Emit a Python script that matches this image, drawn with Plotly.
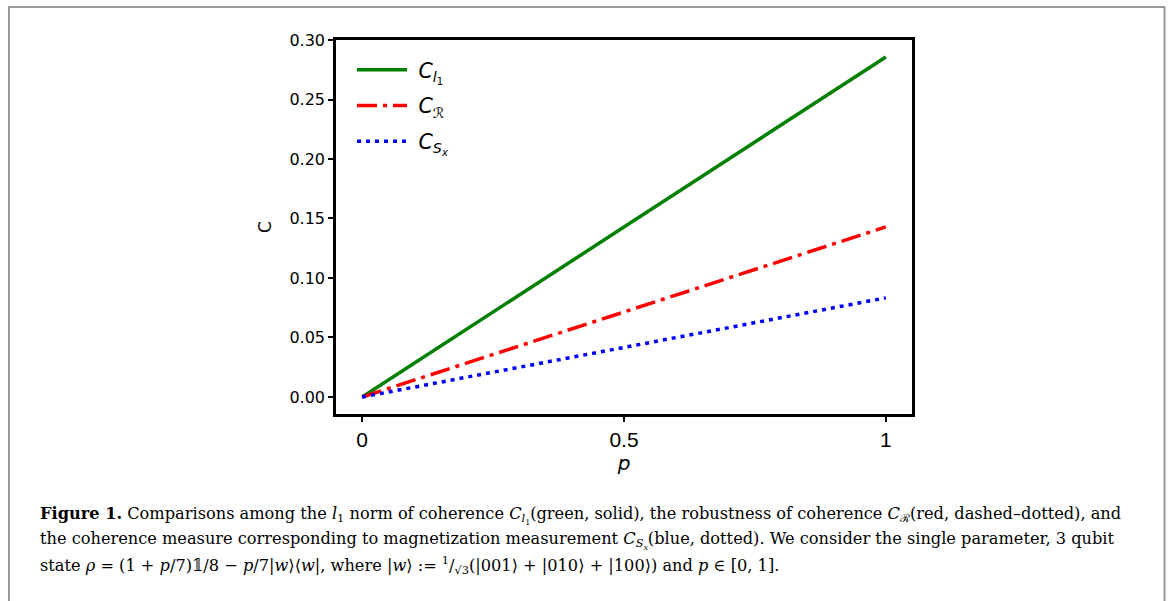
import plotly.graph_objects as go

# data
p = [0.0, 1.0]
c_l1 = [0.0, 0.2857]
c_r = [0.0, 0.1429]
c_sx = [0.0, 0.0833]

x_ticks = [0, 0.5, 1]
x_tick_labels = ["0", "0.5", "1"]
y_ticks = [0.0, 0.05, 0.10, 0.15, 0.20, 0.25, 0.30]
y_tick_labels = ["0.00", "0.05", "0.10", "0.15", "0.20", "0.25", "0.30"]

W, H = 1171, 601
L, R, T, B = 336, 912, 40, 414
pw, ph = R - L, B - T

def px(x):
    return (x - L) / pw

def py(y):
    return (B - y) / ph

NB = "\u00a0"
fig = go.Figure()
fig.add_trace(go.Scatter(x=p, y=c_l1, mode="lines", name=NB + "<i>C</i><sub><i>l</i><sub>1</sub></sub>",
                         line=dict(color="green", width=3.5), legendgroup="a"))
fig.add_trace(go.Scatter(x=p, y=c_r, mode="lines", name=NB + "<i>C</i><sub>ℛ</sub>",
                         line=dict(color="red", width=3.5, dash="20px,6px,4px,6px"), legendgroup="b"))
fig.add_trace(go.Scatter(x=p, y=c_sx, mode="lines", name=NB + "<i>C</i><sub><i>S</i><sub><i>x</i></sub></sub>",
                         line=dict(color="blue", width=3.5, dash="4px,5px"), legendgroup="c"))

axis_common = dict(showgrid=False, zeroline=False, showline=True, linecolor="black", linewidth=2.5,
                   mirror=True, ticks="outside", ticklen=5, tickwidth=2, tickcolor="black")

fig.update_xaxes(range=[-0.05, 1.05], tickvals=x_ticks, ticktext=x_tick_labels,
                 tickfont=dict(family="Liberation Sans", size=21, color="black"),
                 title=dict(text="<i>p</i>", font=dict(family="DejaVu Sans", size=20, color="black"), standoff=2),
                 **axis_common)
fig.update_yaxes(range=[-0.0143, 0.3], tickvals=y_ticks, ticktext=y_tick_labels,
                 tickfont=dict(family="DejaVu Sans", size=16, color="black"),
                 title=dict(text="C", font=dict(family="DejaVu Sans", size=17, color="black"), standoff=14),
                 **axis_common)

caption_font = dict(family="DejaVu Serif", size=16.2, color="black")
lines = [
    "<b>Figure 1.</b> Comparisons among the <i>l</i><sub>1</sub> norm of coherence <i>C</i><sub><i>l</i><sub>1</sub></sub>(green, solid), the robustness of coherence <i>C</i><sub>ℛ</sub>(red, dashed–dotted), and",
    "the coherence measure corresponding to magnetization measurement <i>C</i><sub><i>S</i><sub><i>x</i></sub></sub>(blue, dotted). We consider the single parameter, 3 qubit",
    "state <i>ρ</i> = (1 + <i>p</i>/7)𝟙/8 − <i>p</i>/7|<i>w</i>⟩⟨<i>w</i>|, where |<i>w</i>⟩ := <sup>1</sup>/<sub>√3</sub>(|001⟩ + |010⟩ + |100⟩) and <i>p</i> ∈ [0, 1].",
]
annotations = []
for i, t in enumerate(lines):
    annotations.append(dict(text=t, x=px(38), y=py(515 + 25 * i), xref="paper", yref="paper",
                            xanchor="left", yanchor="middle", showarrow=False, font=caption_font,
                            align="left"))

fig.update_layout(
    width=W, height=H, autosize=False,
    margin=dict(l=L, r=W - R, t=T, b=H - B, pad=0),
    paper_bgcolor="white", plot_bgcolor="white",
    showlegend=True,
    legend=dict(x=px(352), y=py(50), xanchor="left", yanchor="top", bgcolor="rgba(0,0,0,0)",
                font=dict(family="DejaVu Sans", size=20.5, color="black"), tracegroupgap=6,
                itemwidth=50),
    annotations=annotations,
    shapes=[dict(type="rect", xref="paper", yref="paper", x0=px(9), x1=px(1164.5), y0=py(620), y1=py(7),
                 line=dict(color="#999999", width=2), fillcolor="rgba(0,0,0,0)", layer="below")],
)

fig.write_html("out.html", config={"displayModeBar": False},
               post_script="document.body.style.margin='0';document.body.style.overflow='hidden';")
